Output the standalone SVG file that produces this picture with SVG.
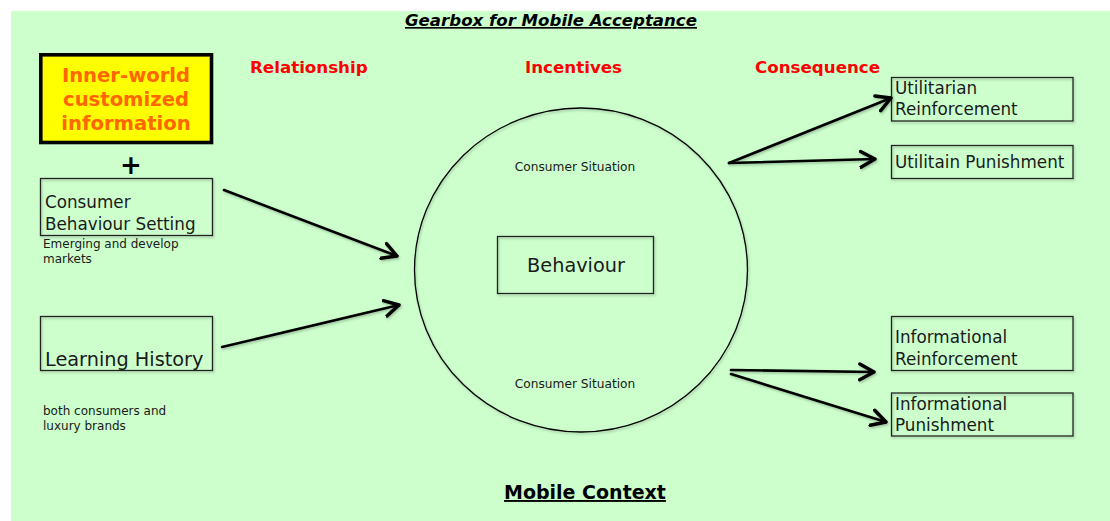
<svg xmlns="http://www.w3.org/2000/svg" width="1110" height="521" viewBox="0 0 1110 521">
<defs>
<style>
.t{font-family:"DejaVu Sans","Verdana",sans-serif;fill:#1a1a1a}
.box{fill:none;stroke:#222;stroke-width:1.3}
.hdr{font-family:"DejaVu Sans",sans-serif;font-weight:bold;font-size:16.7px;fill:#ff0000}
.con{fill:none;stroke:#000;stroke-width:2.6;stroke-linecap:round}
.b17{font-size:16.8px}
.s12{font-size:12px}
</style>
<marker id="arr" markerUnits="userSpaceOnUse" markerWidth="20" markerHeight="20" refX="11" refY="7" orient="auto" viewBox="0 0 14 14">
<polyline points="1,1.5 11,7 1,12.5" fill="none" stroke="#000" stroke-width="2.4" stroke-linecap="round" stroke-linejoin="round"/>
</marker>
<filter id="sh" x="-10%" y="-10%" width="130%" height="140%">
<feDropShadow dx="1" dy="1.5" stdDeviation="1" flood-color="#000" flood-opacity="0.25"/>
</filter>
</defs>
<rect x="11" y="11" width="1099" height="510" fill="#ccffcc"/>

<g id="title">
<text x="405" y="26" class="t" style="font-size:16.6px;font-weight:bold;font-style:italic;fill:#000;text-decoration:underline">Gearbox for Mobile Acceptance</text>
</g>
<g id="headers">
<text x="250" y="73" class="hdr">Relationship</text>
<text x="525" y="73" class="hdr">Incentives</text>
<text x="755" y="73" class="hdr">Consequence</text>
</g>

<g id="inner-world">
<rect x="40.8" y="54.8" width="170.7" height="87.7" fill="#ffff00" stroke="#000" stroke-width="3.6"/>
<g class="t" style="font-size:19.6px;font-weight:bold;fill:#ff6600" text-anchor="middle">
<text x="126" y="82">Inner-world</text>
<text x="126" y="106">customized</text>
<text x="126" y="130">information</text>
</g>
</g>
<g id="plus">
<text x="131" y="174" class="t" text-anchor="middle" style="font-size:26px;font-weight:bold;fill:#000">+</text>
</g>

<g id="consumer-behaviour-setting">
<rect x="40.5" y="178.5" width="172" height="57" class="box" filter="url(#sh)"/>
<text class="t b17" x="45" y="208">Consumer</text>
<text class="t b17" x="45" y="230">Behaviour Setting</text>
<text class="t s12" x="43" y="248">Emerging and develop</text>
<text class="t s12" x="43" y="263">markets</text>
</g>

<g id="learning-history">
<rect x="40.5" y="316.5" width="172" height="54" class="box" filter="url(#sh)"/>
<text class="t" style="font-size:19.3px" x="45" y="366">Learning History</text>
<text class="t s12" x="43" y="415">both consumers and</text>
<text class="t s12" x="43" y="430">luxury brands</text>
</g>

<g id="consumer-situation">
<ellipse cx="581" cy="270" rx="166.5" ry="162" fill="none" stroke="#000" stroke-width="1.3" filter="url(#sh)"/>
<text class="t" style="font-size:12.2px" x="575" y="171" text-anchor="middle">Consumer Situation</text>
<text class="t" style="font-size:12.2px" x="575" y="388" text-anchor="middle">Consumer Situation</text>
</g>

<g id="behaviour">
<rect x="497.5" y="236.5" width="156" height="57" class="box" filter="url(#sh)"/>
<text class="t" style="font-size:19.3px" x="576" y="272" text-anchor="middle">Behaviour</text>
</g>

<g id="utilitarian-reinforcement">
<rect x="891.5" y="77.5" width="181.5" height="43.5" class="box" filter="url(#sh)"/>
<text class="t b17" x="895" y="94">Utilitarian</text>
<text class="t b17" x="895" y="115">Reinforcement</text>
</g>
<g id="utilitain-punishment">
<rect x="891.5" y="145.5" width="181.5" height="33" class="box" filter="url(#sh)"/>
<text class="t b17" x="895" y="168">Utilitain Punishment</text>
</g>
<g id="informational-reinforcement">
<rect x="891.5" y="316.5" width="181.5" height="54" class="box" filter="url(#sh)"/>
<text class="t b17" x="895" y="343">Informational</text>
<text class="t b17" x="895" y="365">Reinforcement</text>
</g>
<g id="informational-punishment">
<rect x="891.5" y="393" width="181.5" height="43" class="box" filter="url(#sh)"/>
<text class="t b17" x="895" y="410">Informational</text>
<text class="t b17" x="895" y="431">Punishment</text>
</g>

<g id="footer">
<text x="585" y="499" class="t" text-anchor="middle" style="font-size:19px;font-weight:bold;fill:#000;text-decoration:underline">Mobile Context</text>
</g>

<g id="connectors" filter="url(#sh)">
<line x1="224" y1="190" x2="397" y2="256" class="con" marker-end="url(#arr)"/>
<line x1="222" y1="347" x2="399" y2="305" class="con" marker-end="url(#arr)"/>
<line x1="729" y1="163" x2="891" y2="98" class="con" marker-end="url(#arr)"/>
<line x1="729" y1="163" x2="875" y2="159" class="con" marker-end="url(#arr)"/>
<line x1="731" y1="370" x2="874" y2="372" class="con" marker-end="url(#arr)"/>
<line x1="731" y1="374" x2="886" y2="422" class="con" marker-end="url(#arr)"/>
</g>
</svg>
